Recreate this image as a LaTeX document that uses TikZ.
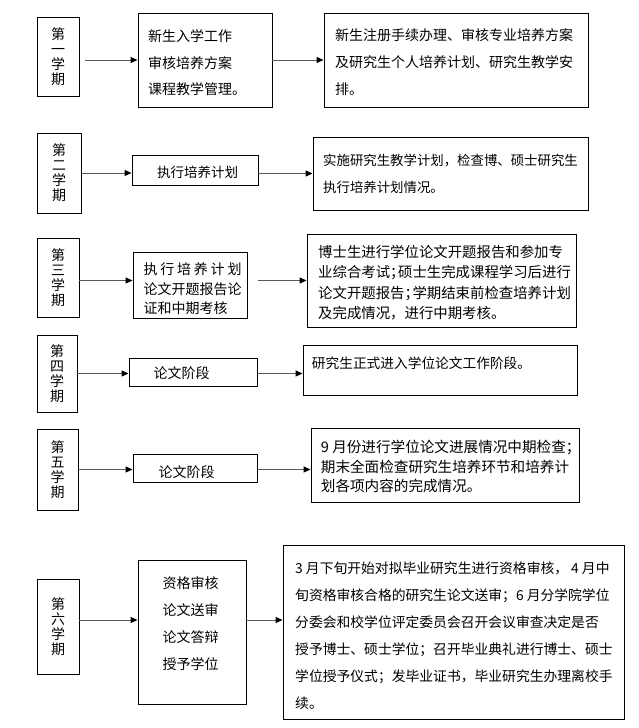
\documentclass[tikz,border=0pt]{standalone}
\usepackage{fontspec}
\newfontfamily\cjk{Noto Sans CJK SC}
\usetikzlibrary{arrows.meta}
\newcommand\halfsemi{\makebox[0.55em][l]{；}}
\begin{document}
\begin{tikzpicture}[x=1pt,y=-1pt,
  box/.style={draw, line width=0.9pt, inner sep=0pt, rectangle},
  sem/.style={box, align=center, font=\cjk\fontsize{14}{15}\selectfont},
  txt/.style={inner sep=0pt, anchor=north west, align=left, font=\cjk\fontsize{14}{27}\selectfont},
  arr/.style={draw=black!65, line width=1pt, -{Triangle[length=7pt,width=6pt,color=black]}}
]
\useasboundingbox (0,0) rectangle (639,728);

% ---------- row 1
\node[sem, minimum width=42pt, minimum height=79pt] (s1) at (58,56.5) {第\\一\\学\\期};
\node[box, minimum width=134pt, minimum height=94pt] (m1) at (205,60) {};
\node[box, minimum width=264pt, minimum height=94pt] (r1) at (456,60) {};
\node[txt, font=\cjk\fontsize{14}{26.5}\selectfont] (tm1) at (148,29.5) {新生入学工作\\审核培养方案\\课程教学管理。};
\node[txt] (tr1) at (335,28.5) {新生注册手续办理、审核专业培养方案\\及研究生个人培养计划、研究生教学安\\排。};

% ---------- row 2
\node[sem, minimum width=44pt, minimum height=80pt] (s2) at (59,173) {第\\二\\学\\期};
\node[box, minimum width=126pt, minimum height=30pt] (m2) at (195,170) {};
\node[box, minimum width=275pt, minimum height=73pt] (r2) at (450.5,173.5) {};
\node[txt, font=\cjk\fontsize{13.5}{27}\selectfont] (tm2) at (157,166) {执行培养计划};
\node[txt, font=\cjk\fontsize{13.4}{27}\selectfont] (tr2) at (323,153.5) {实施研究生教学计划，检查博、硕士研究生\\执行培养计划情况。};

% ---------- row 3
\node[sem, minimum width=42pt, minimum height=79pt] (s3) at (58,277.5) {第\\三\\学\\期};
\node[box, minimum width=114pt, minimum height=66pt] (m3) at (190,285) {};
\node[box, minimum width=269pt, minimum height=93pt] (r3) at (441.5,280.5) {};
\node[txt, font=\cjk\fontsize{14}{19.5}\selectfont] (tm3) at (143.3,262.5) {\makebox[7em][s]{执\hfil 行\hfil 培\hfil 养\hfil 计\hfil 划}\\论文开题报告论\\证和中期考核};
\node[txt, font=\cjk\fontsize{14.4}{20.3}\selectfont] (tr3) at (318,245) {博士生进行学位论文开题报告和参加专\\业综合考试\halfsemi 硕士生完成课程学习后进行\\论文开题报告\halfsemi 学期结束前检查培养计划\\及完成情况，进行中期考核。};

% ---------- row 4
\node[sem, minimum width=40pt, minimum height=77pt] (s4) at (57,373.5) {第\\四\\学\\期};
\node[box, minimum width=128pt, minimum height=28pt] (m4) at (193,372) {};
\node[box, minimum width=274pt, minimum height=50pt] (r4) at (440,370) {};
\node[txt] (tm4) at (153.3,366) {论文阶段};
\node[txt, font=\cjk\fontsize{13.7}{27}\selectfont] (tr4) at (311.7,356.5) {研究生正式进入学位论文工作阶段。};

% ---------- row 5
\node[sem, minimum width=41pt, minimum height=81pt] (s5) at (57.5,469.5) {第\\五\\学\\期};
\node[box, minimum width=124pt, minimum height=28pt] (m5) at (195,468) {};
\node[box, minimum width=268pt, minimum height=74pt] (r5) at (445,465) {};
\node[txt] (tm5) at (158.3,465) {论文阶段};
\node[txt, font=\cjk\fontsize{14.6}{19.5}\selectfont] (tr5) at (320.7,440) {9 月份进行学位论文进展情况中期检查；\\期末全面检查研究生培养环节和培养计\\划各项内容的完成情况。};

% ---------- row 6
\node[sem, minimum width=42pt, minimum height=95pt] (s6) at (58,626.5) {第\\六\\学\\期};
\node[box, minimum width=108pt, minimum height=144pt] (m6) at (192,632) {};
\node[box, minimum width=341pt, minimum height=174pt] (r6) at (453.5,632) {};
\node[txt] (tm6) at (162.3,576) {资格审核\\论文送审\\论文答辩\\授予学位};
\node[txt, font=\cjk\fontsize{13.8}{27}\selectfont] (tr6) at (295,561.5) {3 月下旬开始对拟毕业研究生进行资格审核， 4 月中\\旬资格审核合格的研究生论文送审；6 月分学院学位\\分委会和校学位评定委员会召开会议审查决定是否\\授予博士、硕士学位；召开毕业典礼进行博士、硕士\\学位授予仪式；发毕业证书，毕业研究生办理离校手\\续。};

% ---------- connectors
\draw[arr, shorten <=6pt] (s1.east |- m1.west) -- (m1.west);
\draw[arr] (m1.east) -- (r1.west);

\draw[arr] (s2.east) -- (s2.east -| m2.west);
\draw[arr] (m2.east |- r2.west) -- (r2.west);

\draw[arr] (s3.east |- r3.west) -- (m3.west |- r3.west);
\draw[arr, shorten <=11pt] (m3.east |- r3.west) -- (r3.west);

\draw[arr] (s4.east) -- (s4.east -| m4.west);
\draw[arr] (m4.east |- s4.east) -- (s4.east -| r4.west);

\draw[arr] (s5.east) -- (s5.east -| m5.west);
\draw[arr] (m5.east |- s5.east) -- (s5.east -| r5.west);

\coordinate (a6) at (0,620);
\draw[arr] (s6.east |- a6) -- (m6.west |- a6);
\draw[arr] (m6.east |- a6) -- (r6.west |- a6);
\end{tikzpicture}
\end{document}
